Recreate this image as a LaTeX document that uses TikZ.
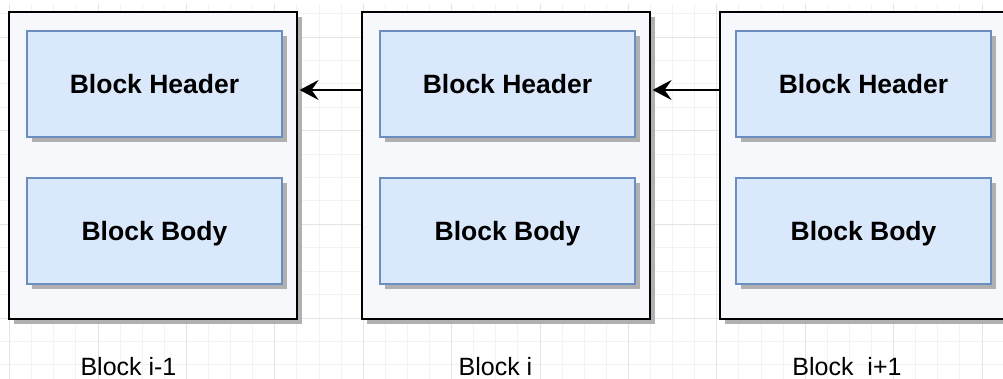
\documentclass[tikz,border=0pt]{standalone}
\usepackage{fontspec}
\setmainfont{Liberation Sans}
\usetikzlibrary{arrows.meta,shadows}
\definecolor{gridminor}{HTML}{F2F2F2}
\definecolor{gridmajor}{HTML}{E4E4E4}
\definecolor{chainfill}{HTML}{F6F8FC}
\definecolor{partfill}{HTML}{DAE8FC}
\definecolor{partline}{HTML}{6C8EBF}
\definecolor{shadowgrey}{HTML}{B0B0B0}
\tikzset{
  minorline/.style={draw=gridminor, line width=1pt},
  majorline/.style={draw=gridmajor, line width=1pt},
  blockbox/.style={draw=black, line width=2.2pt, fill=chainfill,
    minimum width=288pt, minimum height=307pt, inner sep=0pt,
    general shadow={fill=shadowgrey, shadow xshift=5pt, shadow yshift=-5pt}},
  partbox/.style={draw=partline, line width=1.8pt, fill=partfill,
    minimum width=255pt, minimum height=106pt, inner sep=0pt,
    font=\fontsize{26.5}{30}\selectfont\bfseries, text height=19pt, text depth=0pt,
    general shadow={fill=shadowgrey, shadow xshift=5pt, shadow yshift=-5pt}},
  link/.style={line width=2.2pt, shorten >=1.5pt,
    -{Stealth[length=19pt, width=20pt, inset=7pt]}},
  caption/.style={anchor=base, inner sep=0pt, font=\fontsize{25}{30}\selectfont}
}
\begin{document}
\begin{tikzpicture}[x=1pt, y=-1pt]
  \useasboundingbox (0,0) rectangle (1003,379);
  \clip (0,0) rectangle (1003,379);

  % background grid
  \foreach \k in {0,...,45}
    \draw[minorline] ({9.6+22.1*\k},4) -- ({9.6+22.1*\k},379);
  \foreach \j in {0,...,15}
    \draw[minorline] (0,{13.8+23.4*\j}) -- (1003,{13.8+23.4*\j});
  \foreach \k in {0,...,11}
    \draw[majorline] ({9.6+88.4*\k},4) -- ({9.6+88.4*\k},379);
  \foreach \j in {0,...,3}
    \draw[majorline] (0,{37.2+93.6*\j}) -- (1003,{37.2+93.6*\j});

  % the three blocks of the chain
  \node[blockbox] (prev) at (153,165.5) {};
  \node[blockbox] (curr) at (506,165.5) {};
  \node[blockbox] (next) at (864,165.5) {};

  % header and body of each block
  \node[partbox] (prevhead) at (154.5,84)  {Block Header};
  \node[partbox] (prevbody) at (154.5,231) {Block Body};
  \node[partbox] (currhead) at (507.5,84)  {Block Header};
  \node[partbox] (currbody) at (507.5,231) {Block Body};
  \node[partbox] (nexthead) at (863.5,84)  {Block Header};
  \node[partbox] (nextbody) at (863.5,231) {Block Body};

  % back links to the previous block
  \coordinate (linkrow) at (0,90);
  \draw[link] (curr.west |- linkrow) -- (prev.east |- linkrow);
  \draw[link] (next.west |- linkrow) -- (curr.east |- linkrow);

  % captions
  \node[caption] (prevname) at (128.5,375.5) {Block i-1};
  \node[caption] (currname) at (495.5,375.5) {Block i};
  \node[caption] (nextname) at (847,375.5) {Block\ \ i+1};
\end{tikzpicture}
\end{document}
